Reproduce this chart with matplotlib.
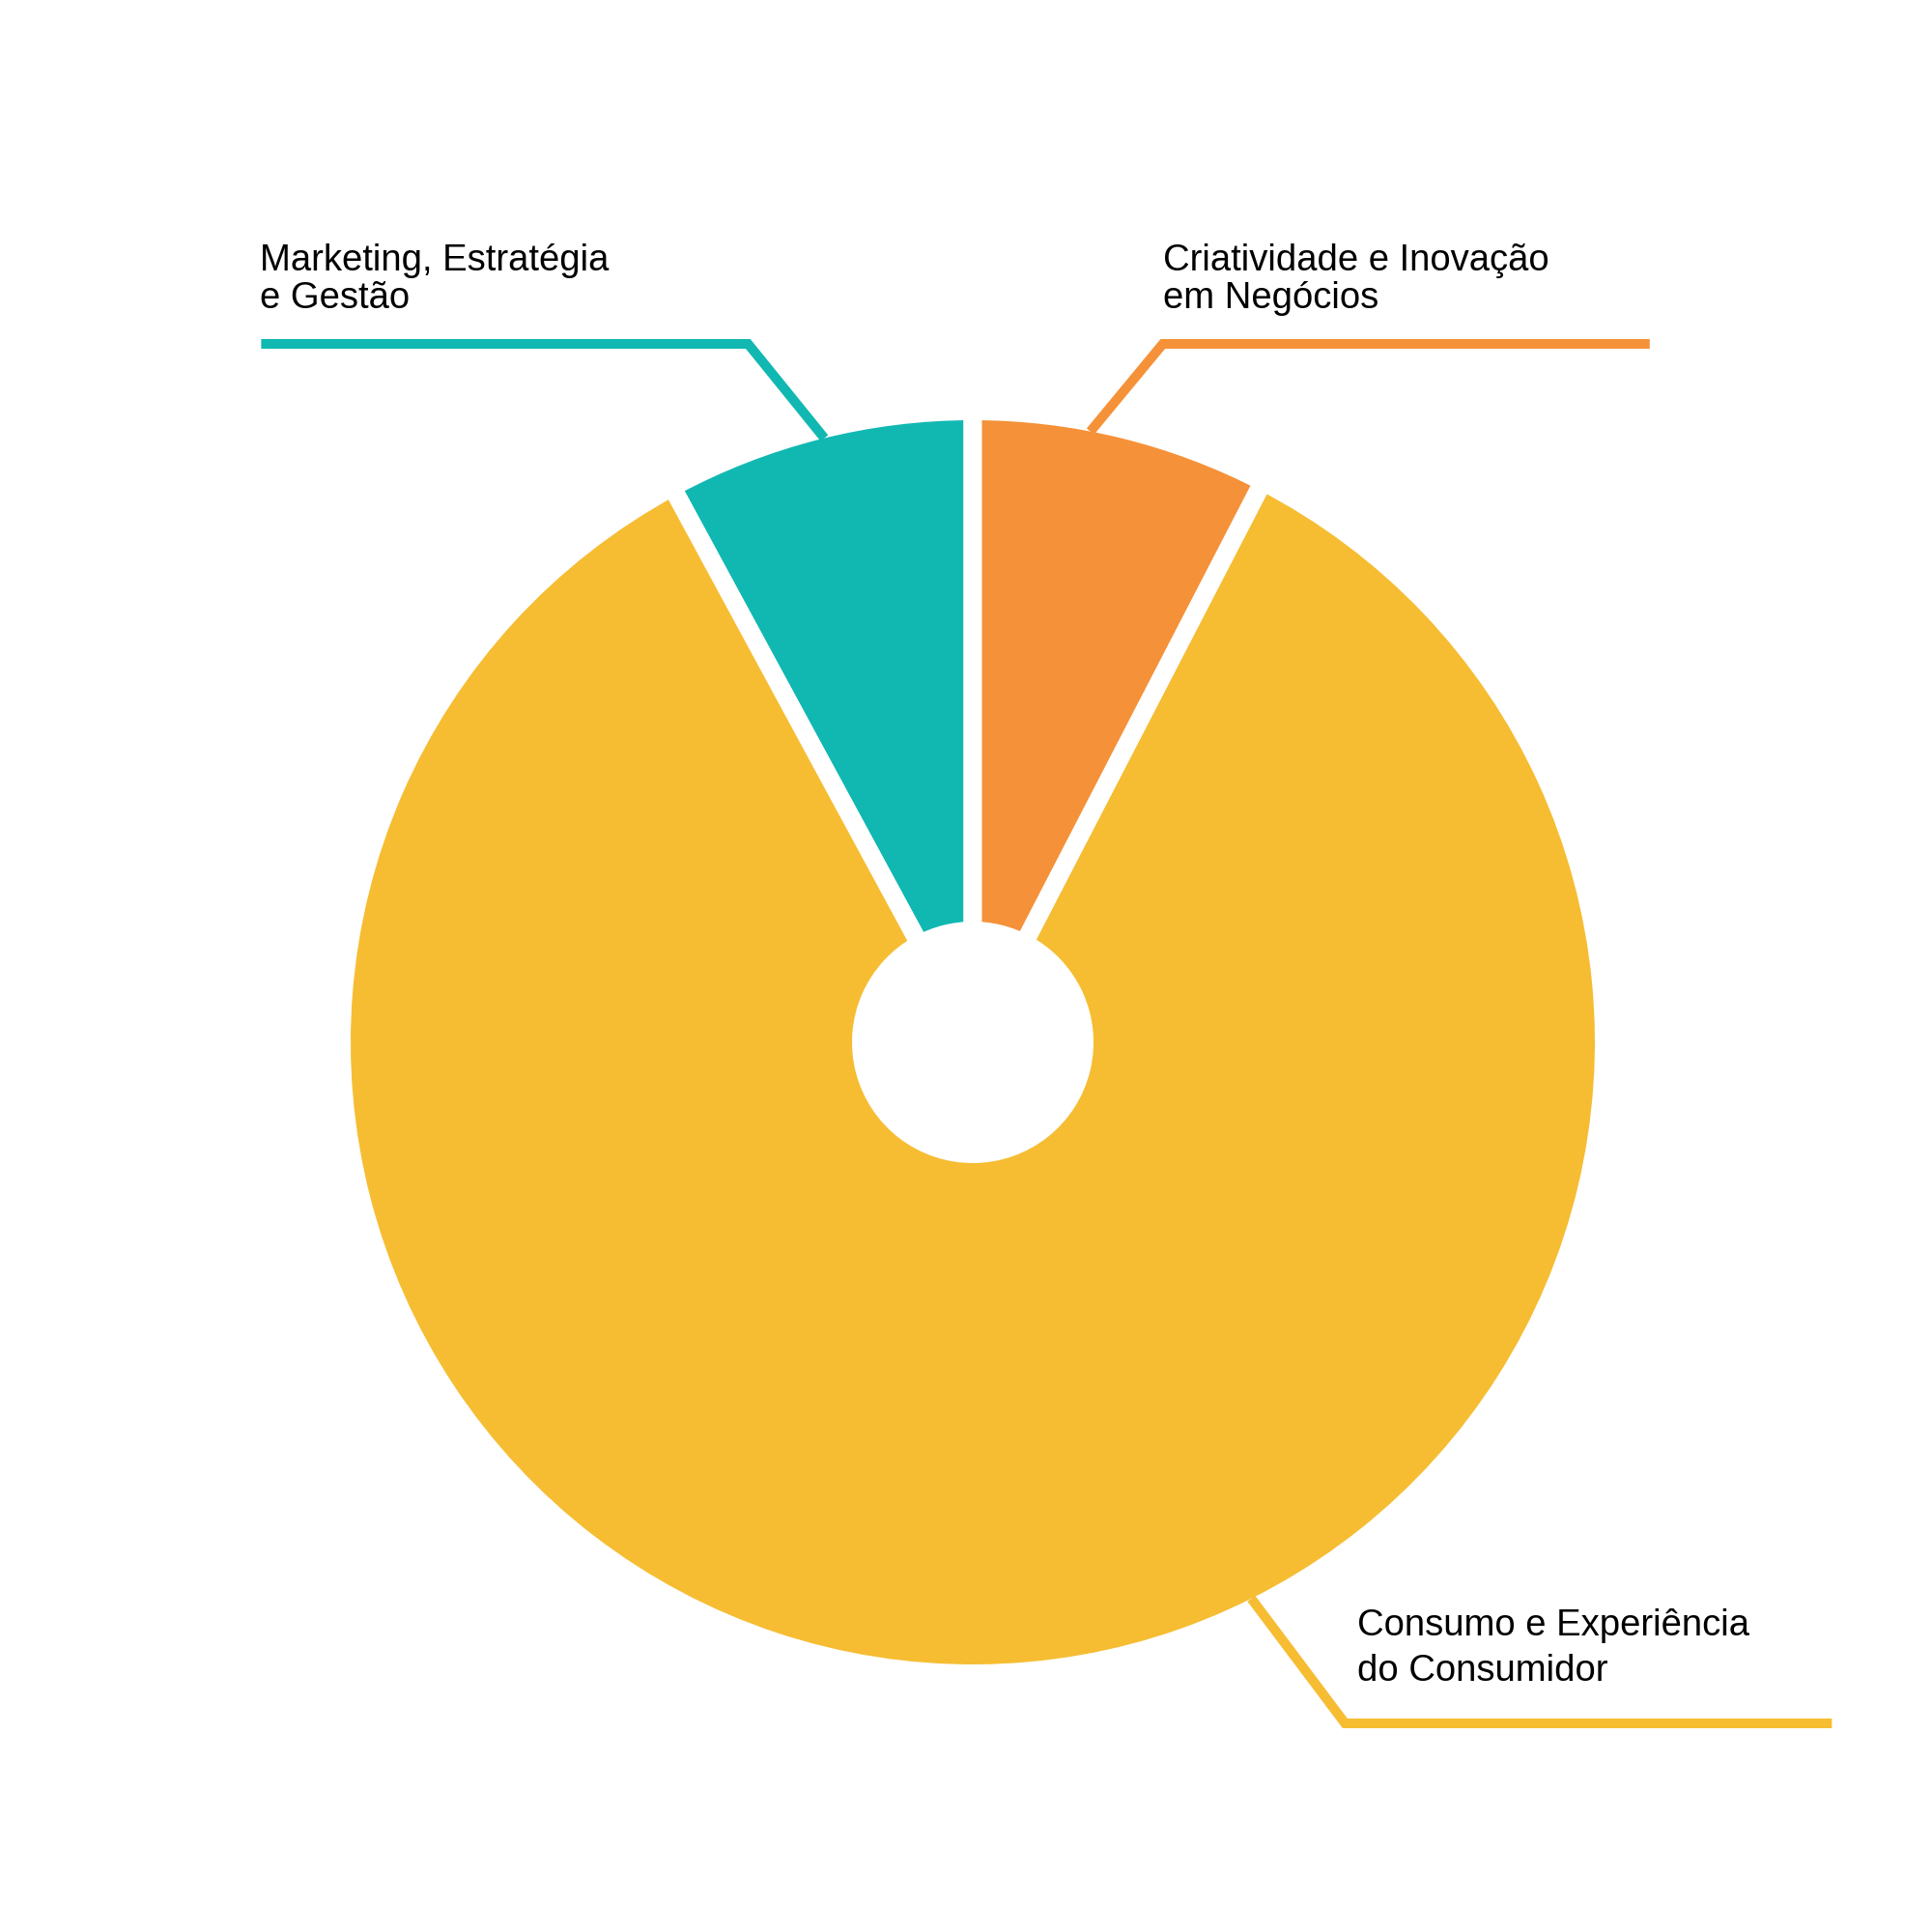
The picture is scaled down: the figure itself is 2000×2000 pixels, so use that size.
import numpy as np
import matplotlib.pyplot as plt

plt.rcParams['font.family'] = ['Liberation Sans', 'DejaVu Sans']

# --- data (share of each theme) ---
categories = ["Marketing, Estratégia\ne Gestão",
              "Consumo e Experiência\ndo Consumidor",
              "Criatividade e Inovação\nem Negócios"]
values = [7.9, 84.5, 7.6]
colors = ["#11B8B2", "#F6BD33", "#F59138"]

# --- layout (pixel space, y up) ---
W = 2000
cx, cy = 1007, W - 1079
r_vis = 644          # visible outer radius
hole_vis = 125       # visible hole radius
gap = 13.7           # white gap between slices, pt
gap_px = gap * 100 / 72

# leader lines: anchor angle on the rim, elbow offset, side of the horizontal run
anchor_deg = [103.8, -63.4, 79.1]
elbow_dx = [-79, 97, 75]
elbow_y = [W - 356, W - 1784, W - 356]
run_len = 504
run_dir = [-1, 1, 1]
label_x = [269, 1405, 1204]
label_base = [[W - 280, W - 319], [W - 1693, W - 1740], [W - 280, W - 319]]

fig = plt.figure(figsize=(20, 20), dpi=100)
ax = fig.add_axes([0, 0, 1, 1])

R = r_vis + gap_px / 2
r_in = hole_vis - gap_px / 2
ax.pie(values, colors=colors, startangle=90, counterclock=True,
       radius=R, center=(cx, cy), frame=False,
       wedgeprops=dict(width=R - r_in, edgecolor="white", linewidth=gap))

for i, lab in enumerate(categories):
    a = np.deg2rad(anchor_deg[i])
    x0, y0 = cx + r_vis * np.cos(a), cy + r_vis * np.sin(a)
    x1, y1 = x0 + elbow_dx[i], elbow_y[i]
    x2 = x1 + run_dir[i] * run_len
    ax.plot([x0, x1, x2], [y0, y1, y1], color=colors[i], lw=7.2,
            solid_joinstyle="miter", solid_capstyle="butt", zorder=5)
    for line, yb in zip(lab.split("\n"), label_base[i]):
        ax.text(label_x[i], yb, line, fontsize=27.5, color="black",
                ha="left", va="baseline")

ax.set_xlim(0, W)
ax.set_ylim(0, W)
ax.set_aspect("equal")
ax.axis("off")

fig.savefig("out.png", dpi=100, facecolor="white")
